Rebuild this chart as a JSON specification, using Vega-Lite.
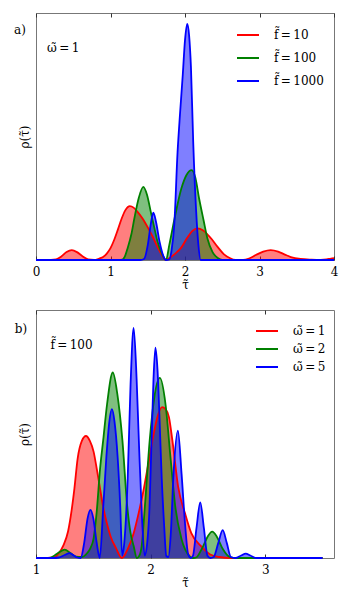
{
  "$schema": "https://vega.github.io/schema/vega-lite/v6.json",
  "padding": {"left": 13, "top": 12, "right": 0, "bottom": 0},
  "config": {
    "font": "DejaVu Serif",
    "view": {"stroke": "#777777", "strokeWidth": 1},
    "axis": {"grid": false, "domain": false, "labelFont": "DejaVu Serif", "titleFont": "DejaVu Serif", "labelFontSize": 12, "titleFontSize": 12, "titleFontWeight": "normal", "labelColor": "#000000", "titleColor": "#000000", "tickColor": "#333333", "labelFlush": false, "labelOverlap": false},
    "legend": {"labelFont": "DejaVu Serif", "labelFontSize": 12, "labelColor": "#000000"},
    "concat": {"spacing": 18}
  },
  "resolve": {"scale": {"color": "independent", "fill": "independent", "x": "independent", "y": "independent"}, "legend": {"color": "independent"}},
  "datasets": {
    "curves": [
      {"panel":"a","series":"f̃ = 10","x":0,"y":0},{"panel":"a","series":"f̃ = 10","x":0.2,"y":0},{"panel":"a","series":"f̃ = 10","x":0.27,"y":0.01},{"panel":"a","series":"f̃ = 10","x":0.34,"y":0.07},{"panel":"a","series":"f̃ = 10","x":0.41,"y":0.16},{"panel":"a","series":"f̃ = 10","x":0.48,"y":0.2},{"panel":"a","series":"f̃ = 10","x":0.55,"y":0.16},{"panel":"a","series":"f̃ = 10","x":0.62,"y":0.08},{"panel":"a","series":"f̃ = 10","x":0.7,"y":0.01},{"panel":"a","series":"f̃ = 10","x":0.78,"y":0},{"panel":"a","series":"f̃ = 10","x":0.85,"y":0.03},{"panel":"a","series":"f̃ = 10","x":0.9,"y":0.06},{"panel":"a","series":"f̃ = 10","x":0.95,"y":0.13},{"panel":"a","series":"f̃ = 10","x":1.0,"y":0.24},{"panel":"a","series":"f̃ = 10","x":1.05,"y":0.41},{"panel":"a","series":"f̃ = 10","x":1.1,"y":0.62},{"panel":"a","series":"f̃ = 10","x":1.15,"y":0.84},{"panel":"a","series":"f̃ = 10","x":1.2,"y":1.01},{"panel":"a","series":"f̃ = 10","x":1.26,"y":1.09},{"panel":"a","series":"f̃ = 10","x":1.31,"y":1.06},{"panel":"a","series":"f̃ = 10","x":1.36,"y":0.98},{"panel":"a","series":"f̃ = 10","x":1.43,"y":0.84},{"panel":"a","series":"f̃ = 10","x":1.5,"y":0.66},{"panel":"a","series":"f̃ = 10","x":1.57,"y":0.46},{"panel":"a","series":"f̃ = 10","x":1.63,"y":0.27},{"panel":"a","series":"f̃ = 10","x":1.69,"y":0.1},{"panel":"a","series":"f̃ = 10","x":1.745,"y":0},{"panel":"a","series":"f̃ = 10","x":1.8,"y":0.05},{"panel":"a","series":"f̃ = 10","x":1.87,"y":0.13},{"panel":"a","series":"f̃ = 10","x":1.95,"y":0.25},{"panel":"a","series":"f̃ = 10","x":2.03,"y":0.45},{"panel":"a","series":"f̃ = 10","x":2.1,"y":0.59},{"panel":"a","series":"f̃ = 10","x":2.17,"y":0.64},{"panel":"a","series":"f̃ = 10","x":2.24,"y":0.6},{"panel":"a","series":"f̃ = 10","x":2.3,"y":0.52},{"panel":"a","series":"f̃ = 10","x":2.36,"y":0.42},{"panel":"a","series":"f̃ = 10","x":2.44,"y":0.26},{"panel":"a","series":"f̃ = 10","x":2.52,"y":0.12},{"panel":"a","series":"f̃ = 10","x":2.6,"y":0.04},{"panel":"a","series":"f̃ = 10","x":2.68,"y":0},{"panel":"a","series":"f̃ = 10","x":2.78,"y":0},{"panel":"a","series":"f̃ = 10","x":2.86,"y":0.03},{"panel":"a","series":"f̃ = 10","x":2.95,"y":0.1},{"panel":"a","series":"f̃ = 10","x":3.05,"y":0.17},{"panel":"a","series":"f̃ = 10","x":3.15,"y":0.2},{"panel":"a","series":"f̃ = 10","x":3.25,"y":0.17},{"panel":"a","series":"f̃ = 10","x":3.34,"y":0.11},{"panel":"a","series":"f̃ = 10","x":3.42,"y":0.06},{"panel":"a","series":"f̃ = 10","x":3.55,"y":0.02},{"panel":"a","series":"f̃ = 10","x":3.7,"y":0.005},{"panel":"a","series":"f̃ = 10","x":3.82,"y":0},{"panel":"a","series":"f̃ = 10","x":3.9,"y":0.01},{"panel":"a","series":"f̃ = 10","x":3.96,"y":0.03},{"panel":"a","series":"f̃ = 10","x":4.0,"y":0.04},
      {"panel":"a","series":"f̃ = 100","x":0,"y":0},{"panel":"a","series":"f̃ = 100","x":1.1,"y":0},{"panel":"a","series":"f̃ = 100","x":1.16,"y":0.01},{"panel":"a","series":"f̃ = 100","x":1.2,"y":0.1},{"panel":"a","series":"f̃ = 100","x":1.23,"y":0.24},{"panel":"a","series":"f̃ = 100","x":1.28,"y":0.52},{"panel":"a","series":"f̃ = 100","x":1.32,"y":0.84},{"panel":"a","series":"f̃ = 100","x":1.38,"y":1.26},{"panel":"a","series":"f̃ = 100","x":1.44,"y":1.48},{"panel":"a","series":"f̃ = 100","x":1.49,"y":1.32},{"panel":"a","series":"f̃ = 100","x":1.54,"y":0.98},{"panel":"a","series":"f̃ = 100","x":1.59,"y":0.64},{"panel":"a","series":"f̃ = 100","x":1.63,"y":0.38},{"panel":"a","series":"f̃ = 100","x":1.69,"y":0.13},{"panel":"a","series":"f̃ = 100","x":1.745,"y":0},{"panel":"a","series":"f̃ = 100","x":1.79,"y":0.31},{"panel":"a","series":"f̃ = 100","x":1.86,"y":0.84},{"panel":"a","series":"f̃ = 100","x":1.95,"y":1.44},{"panel":"a","series":"f̃ = 100","x":2.02,"y":1.72},{"panel":"a","series":"f̃ = 100","x":2.09,"y":1.82},{"panel":"a","series":"f̃ = 100","x":2.14,"y":1.66},{"panel":"a","series":"f̃ = 100","x":2.19,"y":1.24},{"panel":"a","series":"f̃ = 100","x":2.25,"y":0.8},{"panel":"a","series":"f̃ = 100","x":2.3,"y":0.44},{"panel":"a","series":"f̃ = 100","x":2.37,"y":0.16},{"panel":"a","series":"f̃ = 100","x":2.44,"y":0.04},{"panel":"a","series":"f̃ = 100","x":2.5,"y":0},{"panel":"a","series":"f̃ = 100","x":4.0,"y":0},
      {"panel":"a","series":"f̃ = 1000","x":0,"y":0},{"panel":"a","series":"f̃ = 1000","x":1.4,"y":0},{"panel":"a","series":"f̃ = 1000","x":1.45,"y":0.02},{"panel":"a","series":"f̃ = 1000","x":1.5,"y":0.3},{"panel":"a","series":"f̃ = 1000","x":1.54,"y":0.72},{"panel":"a","series":"f̃ = 1000","x":1.575,"y":0.96},{"panel":"a","series":"f̃ = 1000","x":1.61,"y":0.78},{"panel":"a","series":"f̃ = 1000","x":1.66,"y":0.36},{"panel":"a","series":"f̃ = 1000","x":1.71,"y":0.08},{"panel":"a","series":"f̃ = 1000","x":1.745,"y":0},{"panel":"a","series":"f̃ = 1000","x":1.79,"y":0.01},{"panel":"a","series":"f̃ = 1000","x":1.82,"y":0.2},{"panel":"a","series":"f̃ = 1000","x":1.856,"y":0.71},{"panel":"a","series":"f̃ = 1000","x":1.9,"y":2.18},{"panel":"a","series":"f̃ = 1000","x":1.935,"y":3.0},{"panel":"a","series":"f̃ = 1000","x":1.97,"y":3.75},{"panel":"a","series":"f̃ = 1000","x":2.0,"y":4.45},{"panel":"a","series":"f̃ = 1000","x":2.03,"y":4.78},{"panel":"a","series":"f̃ = 1000","x":2.055,"y":4.55},{"panel":"a","series":"f̃ = 1000","x":2.08,"y":3.9},{"panel":"a","series":"f̃ = 1000","x":2.11,"y":2.4},{"panel":"a","series":"f̃ = 1000","x":2.15,"y":0.98},{"panel":"a","series":"f̃ = 1000","x":2.18,"y":0.3},{"panel":"a","series":"f̃ = 1000","x":2.21,"y":0},{"panel":"a","series":"f̃ = 1000","x":4.0,"y":0},
      {"panel":"b","series":"ω̃ = 1","x":1,"y":0},{"panel":"b","series":"ω̃ = 1","x":1.1,"y":0},{"panel":"b","series":"ω̃ = 1","x":1.153,"y":0.01},{"panel":"b","series":"ω̃ = 1","x":1.2,"y":0.1},{"panel":"b","series":"ω̃ = 1","x":1.24,"y":0.26},{"panel":"b","series":"ω̃ = 1","x":1.28,"y":0.54},{"panel":"b","series":"ω̃ = 1","x":1.31,"y":0.95},{"panel":"b","series":"ω̃ = 1","x":1.335,"y":1.4},{"panel":"b","series":"ω̃ = 1","x":1.363,"y":2.0},{"panel":"b","series":"ω̃ = 1","x":1.4,"y":2.36},{"panel":"b","series":"ω̃ = 1","x":1.436,"y":2.46},{"panel":"b","series":"ω̃ = 1","x":1.47,"y":2.36},{"panel":"b","series":"ω̃ = 1","x":1.503,"y":2.14},{"panel":"b","series":"ω̃ = 1","x":1.53,"y":1.8},{"panel":"b","series":"ω̃ = 1","x":1.559,"y":1.4},{"panel":"b","series":"ω̃ = 1","x":1.585,"y":1.04},{"panel":"b","series":"ω̃ = 1","x":1.614,"y":0.74},{"panel":"b","series":"ω̃ = 1","x":1.65,"y":0.44},{"panel":"b","series":"ω̃ = 1","x":1.698,"y":0.2},{"panel":"b","series":"ω̃ = 1","x":1.75,"y":0},{"panel":"b","series":"ω̃ = 1","x":1.8,"y":0.18},{"panel":"b","series":"ω̃ = 1","x":1.852,"y":0.5},{"panel":"b","series":"ω̃ = 1","x":1.9,"y":0.95},{"panel":"b","series":"ω̃ = 1","x":1.936,"y":1.34},{"panel":"b","series":"ω̃ = 1","x":1.98,"y":1.9},{"panel":"b","series":"ω̃ = 1","x":2.02,"y":2.42},{"panel":"b","series":"ω̃ = 1","x":2.06,"y":2.85},{"panel":"b","series":"ω̃ = 1","x":2.1,"y":3.04},{"panel":"b","series":"ω̃ = 1","x":2.13,"y":3.0},{"panel":"b","series":"ω̃ = 1","x":2.16,"y":2.84},{"panel":"b","series":"ω̃ = 1","x":2.19,"y":2.37},{"panel":"b","series":"ω̃ = 1","x":2.24,"y":1.44},{"panel":"b","series":"ω̃ = 1","x":2.3,"y":0.9},{"panel":"b","series":"ω̃ = 1","x":2.355,"y":0.5},{"panel":"b","series":"ω̃ = 1","x":2.44,"y":0.24},{"panel":"b","series":"ω̃ = 1","x":2.52,"y":0.07},{"panel":"b","series":"ω̃ = 1","x":2.6,"y":0.02},{"panel":"b","series":"ω̃ = 1","x":2.7,"y":0},{"panel":"b","series":"ω̃ = 1","x":3.5,"y":0},
      {"panel":"b","series":"ω̃ = 2","x":1,"y":0},{"panel":"b","series":"ω̃ = 2","x":1.1,"y":0},{"panel":"b","series":"ω̃ = 2","x":1.13,"y":0.01},{"panel":"b","series":"ω̃ = 2","x":1.18,"y":0.08},{"panel":"b","series":"ω̃ = 2","x":1.25,"y":0.17},{"panel":"b","series":"ω̃ = 2","x":1.3,"y":0.1},{"panel":"b","series":"ω̃ = 2","x":1.35,"y":0.03},{"panel":"b","series":"ω̃ = 2","x":1.4,"y":0.02},{"panel":"b","series":"ω̃ = 2","x":1.447,"y":0.1},{"panel":"b","series":"ω̃ = 2","x":1.475,"y":0.2},{"panel":"b","series":"ω̃ = 2","x":1.503,"y":0.4},{"panel":"b","series":"ω̃ = 2","x":1.53,"y":0.94},{"panel":"b","series":"ω̃ = 2","x":1.559,"y":1.8},{"panel":"b","series":"ω̃ = 2","x":1.586,"y":2.37},{"panel":"b","series":"ω̃ = 2","x":1.62,"y":3.1},{"panel":"b","series":"ω̃ = 2","x":1.67,"y":3.74},{"panel":"b","series":"ω̃ = 2","x":1.71,"y":3.3},{"panel":"b","series":"ω̃ = 2","x":1.754,"y":2.37},{"panel":"b","series":"ω̃ = 2","x":1.796,"y":1.04},{"panel":"b","series":"ω̃ = 2","x":1.825,"y":0.5},{"panel":"b","series":"ω̃ = 2","x":1.852,"y":0.24},{"panel":"b","series":"ω̃ = 2","x":1.88,"y":0},{"panel":"b","series":"ω̃ = 2","x":1.9,"y":0.04},{"panel":"b","series":"ω̃ = 2","x":1.922,"y":0.24},{"panel":"b","series":"ω̃ = 2","x":1.95,"y":1.04},{"panel":"b","series":"ω̃ = 2","x":1.992,"y":2.37},{"panel":"b","series":"ω̃ = 2","x":2.03,"y":3.2},{"panel":"b","series":"ω̃ = 2","x":2.081,"y":3.63},{"panel":"b","series":"ω̃ = 2","x":2.13,"y":3.1},{"panel":"b","series":"ω̃ = 2","x":2.173,"y":2.04},{"panel":"b","series":"ω̃ = 2","x":2.215,"y":1.04},{"panel":"b","series":"ω̃ = 2","x":2.27,"y":0.38},{"panel":"b","series":"ω̃ = 2","x":2.34,"y":0.04},{"panel":"b","series":"ω̃ = 2","x":2.37,"y":0},{"panel":"b","series":"ω̃ = 2","x":2.397,"y":0.01},{"panel":"b","series":"ω̃ = 2","x":2.45,"y":0.2},{"panel":"b","series":"ω̃ = 2","x":2.5,"y":0.44},{"panel":"b","series":"ω̃ = 2","x":2.537,"y":0.53},{"panel":"b","series":"ω̃ = 2","x":2.58,"y":0.42},{"panel":"b","series":"ω̃ = 2","x":2.63,"y":0.18},{"panel":"b","series":"ω̃ = 2","x":2.69,"y":0.02},{"panel":"b","series":"ω̃ = 2","x":2.75,"y":0},{"panel":"b","series":"ω̃ = 2","x":3.5,"y":0},
      {"panel":"b","series":"ω̃ = 5","x":1,"y":0},{"panel":"b","series":"ω̃ = 5","x":1.15,"y":0},{"panel":"b","series":"ω̃ = 5","x":1.2,"y":0.01},{"panel":"b","series":"ω̃ = 5","x":1.25,"y":0.06},{"panel":"b","series":"ω̃ = 5","x":1.293,"y":0.1},{"panel":"b","series":"ω̃ = 5","x":1.33,"y":0.05},{"panel":"b","series":"ω̃ = 5","x":1.36,"y":0.01},{"panel":"b","series":"ω̃ = 5","x":1.39,"y":0},{"panel":"b","series":"ω̃ = 5","x":1.42,"y":0.3},{"panel":"b","series":"ω̃ = 5","x":1.45,"y":0.8},{"panel":"b","series":"ω̃ = 5","x":1.475,"y":0.97},{"panel":"b","series":"ω̃ = 5","x":1.5,"y":0.8},{"panel":"b","series":"ω̃ = 5","x":1.53,"y":0.3},{"panel":"b","series":"ω̃ = 5","x":1.556,"y":0},{"panel":"b","series":"ω̃ = 5","x":1.587,"y":1.04},{"panel":"b","series":"ω̃ = 5","x":1.614,"y":2.04},{"panel":"b","series":"ω̃ = 5","x":1.64,"y":2.75},{"panel":"b","series":"ω̃ = 5","x":1.662,"y":3.0},{"panel":"b","series":"ω̃ = 5","x":1.685,"y":2.75},{"panel":"b","series":"ω̃ = 5","x":1.712,"y":2.04},{"panel":"b","series":"ω̃ = 5","x":1.735,"y":1.04},{"panel":"b","series":"ω̃ = 5","x":1.752,"y":0.05},{"panel":"b","series":"ω̃ = 5","x":1.77,"y":0.3},{"panel":"b","series":"ω̃ = 5","x":1.8,"y":1.6},{"panel":"b","series":"ω̃ = 5","x":1.825,"y":3.5},{"panel":"b","series":"ω̃ = 5","x":1.852,"y":4.64},{"panel":"b","series":"ω̃ = 5","x":1.878,"y":3.6},{"panel":"b","series":"ω̃ = 5","x":1.9,"y":2.2},{"panel":"b","series":"ω̃ = 5","x":1.925,"y":0.8},{"panel":"b","series":"ω̃ = 5","x":1.948,"y":0.05},{"panel":"b","series":"ω̃ = 5","x":1.97,"y":0.3},{"panel":"b","series":"ω̃ = 5","x":1.99,"y":1.0},{"panel":"b","series":"ω̃ = 5","x":2.006,"y":2.2},{"panel":"b","series":"ω̃ = 5","x":2.025,"y":3.6},{"panel":"b","series":"ω̃ = 5","x":2.042,"y":4.24},{"panel":"b","series":"ω̃ = 5","x":2.06,"y":3.8},{"panel":"b","series":"ω̃ = 5","x":2.078,"y":2.8},{"panel":"b","series":"ω̃ = 5","x":2.097,"y":1.6},{"panel":"b","series":"ω̃ = 5","x":2.117,"y":0.7},{"panel":"b","series":"ω̃ = 5","x":2.137,"y":0.04},{"panel":"b","series":"ω̃ = 5","x":2.155,"y":0.02},{"panel":"b","series":"ω̃ = 5","x":2.175,"y":0.45},{"panel":"b","series":"ω̃ = 5","x":2.2,"y":1.7},{"panel":"b","series":"ω̃ = 5","x":2.238,"y":2.57},{"panel":"b","series":"ω̃ = 5","x":2.27,"y":1.7},{"panel":"b","series":"ω̃ = 5","x":2.3,"y":0.7},{"panel":"b","series":"ω̃ = 5","x":2.327,"y":0.08},{"panel":"b","series":"ω̃ = 5","x":2.35,"y":0},{"panel":"b","series":"ω̃ = 5","x":2.37,"y":0.05},{"panel":"b","series":"ω̃ = 5","x":2.4,"y":0.6},{"panel":"b","series":"ω̃ = 5","x":2.433,"y":1.12},{"panel":"b","series":"ω̃ = 5","x":2.465,"y":0.6},{"panel":"b","series":"ω̃ = 5","x":2.495,"y":0.05},{"panel":"b","series":"ω̃ = 5","x":2.52,"y":0},{"panel":"b","series":"ω̃ = 5","x":2.55,"y":0.02},{"panel":"b","series":"ω̃ = 5","x":2.59,"y":0.3},{"panel":"b","series":"ω̃ = 5","x":2.629,"y":0.56},{"panel":"b","series":"ω̃ = 5","x":2.665,"y":0.3},{"panel":"b","series":"ω̃ = 5","x":2.7,"y":0.02},{"panel":"b","series":"ω̃ = 5","x":2.74,"y":0},{"panel":"b","series":"ω̃ = 5","x":2.79,"y":0.05},{"panel":"b","series":"ω̃ = 5","x":2.83,"y":0.09},{"panel":"b","series":"ω̃ = 5","x":2.87,"y":0.05},{"panel":"b","series":"ω̃ = 5","x":2.92,"y":0},{"panel":"b","series":"ω̃ = 5","x":3.5,"y":0}
    ]
  },
  "vconcat": [
    {
      "width": 298, "height": 247,
      "resolve": {"axis": {"x": "independent", "y": "independent"}},
      "layer": [
        {
          "data": {"name": "curves"},
          "transform": [{"filter": "datum.panel == 'a'"}],
          "mark": {"type": "area", "interpolate": "monotone", "fillOpacity": 0.5},
          "encoding": {
            "x": {"field": "x", "type": "quantitative", "scale": {"domain": [0, 4]}, "axis": {"orient": "top", "values": [0, 1, 2, 3, 4], "tickSize": -4, "labels": false, "title": null}},
            "y": {"field": "y", "type": "quantitative", "stack": null, "scale": {"domain": [0, 4.94]}, "axis": null},
            "fill": {"field": "series", "type": "nominal", "scale": {"domain": ["f̃ = 1000", "f̃ = 100", "f̃ = 10"], "range": ["#0000ff", "#008000", "#ff0000"]}, "legend": null}
          }
        },
        {
          "data": {"name": "curves"},
          "transform": [{"filter": "datum.panel == 'a'"}],
          "mark": {"type": "line", "interpolate": "monotone", "strokeWidth": 1.8},
          "encoding": {
            "x": {"field": "x", "type": "quantitative", "scale": {"domain": [0, 4]}, "axis": {"orient": "bottom", "values": [0, 1, 2, 3, 4], "tickSize": -4, "labelPadding": 10, "title": "τ̃", "titlePadding": 2, "format": "d"}},
            "y": {"field": "y", "type": "quantitative", "scale": {"domain": [0, 4.94]}, "axis": {"orient": "left", "title": "ρ(τ̃)", "labels": false, "ticks": false, "titlePadding": 5}},
            "color": {"field": "series", "type": "nominal", "scale": {"domain": ["f̃ = 10", "f̃ = 100", "f̃ = 1000"], "range": ["#ff0000", "#008000", "#0000ff"]}, "legend": {"title": null, "orient": "none", "legendX": 200, "legendY": 10, "symbolType": "stroke", "symbolSize": 484, "symbolStrokeWidth": 2, "labelOffset": 14, "rowPadding": 5, "padding": 0, "labelExpr": "replace(datum.label, ' = ', '\u2009=\u2009')"}}
          }
        },
        {
          "data": {"values": [{}]},
          "mark": {"type": "text", "align": "left", "baseline": "alphabetic", "fontSize": 12, "font": "DejaVu Serif"},
          "encoding": {"x": {"datum": -0.295, "type": "quantitative", "axis": null}, "y": {"datum": 4.58, "type": "quantitative", "axis": null}, "text": {"value": "a)"}}
        },
        {
          "data": {"values": [{}]},
          "mark": {"type": "text", "align": "left", "baseline": "alphabetic", "fontSize": 12, "font": "DejaVu Serif"},
          "encoding": {"x": {"datum": 0.148, "type": "quantitative", "axis": null}, "y": {"datum": 4.22, "type": "quantitative", "axis": null}, "text": {"value": "ω̃\u2009=\u20091"}}
        }
      ]
    },
    {
      "width": 298, "height": 248,
      "resolve": {"axis": {"x": "independent", "y": "independent"}},
      "layer": [
        {
          "data": {"name": "curves"},
          "transform": [{"filter": "datum.panel == 'b'"}],
          "mark": {"type": "area", "interpolate": "monotone", "fillOpacity": 0.5},
          "encoding": {
            "x": {"field": "x", "type": "quantitative", "scale": {"domain": [1, 3.5]}, "axis": {"orient": "top", "values": [1, 2, 3], "tickSize": -4, "labels": false, "title": null}},
            "y": {"field": "y", "type": "quantitative", "stack": null, "scale": {"domain": [0, 4.96]}, "axis": null},
            "fill": {"field": "series", "type": "nominal", "scale": {"domain": ["ω̃ = 5", "ω̃ = 2", "ω̃ = 1"], "range": ["#0000ff", "#008000", "#ff0000"]}, "legend": null}
          }
        },
        {
          "data": {"name": "curves"},
          "transform": [{"filter": "datum.panel == 'b'"}],
          "mark": {"type": "line", "interpolate": "monotone", "strokeWidth": 1.8},
          "encoding": {
            "x": {"field": "x", "type": "quantitative", "scale": {"domain": [1, 3.5]}, "axis": {"orient": "bottom", "values": [1, 2, 3], "tickSize": -4, "labelPadding": 10, "title": "τ̃", "titlePadding": 2, "format": "d"}},
            "y": {"field": "y", "type": "quantitative", "scale": {"domain": [0, 4.96]}, "axis": {"orient": "left", "title": "ρ(τ̃)", "labels": false, "ticks": false, "titlePadding": 5}},
            "color": {"field": "series", "type": "nominal", "scale": {"domain": ["ω̃ = 1", "ω̃ = 2", "ω̃ = 5"], "range": ["#ff0000", "#008000", "#0000ff"]}, "legend": {"title": null, "orient": "none", "legendX": 219, "legendY": 9, "symbolType": "stroke", "symbolSize": 484, "symbolStrokeWidth": 2, "labelOffset": 14, "rowPadding": 0, "padding": 0, "labelExpr": "replace(datum.label, ' = ', '\u2009=\u2009')"}}
          }
        },
        {
          "data": {"values": [{}]},
          "mark": {"type": "text", "align": "left", "baseline": "alphabetic", "fontSize": 12, "font": "DejaVu Serif"},
          "encoding": {"x": {"datum": 0.8156, "type": "quantitative", "axis": null}, "y": {"datum": 4.54, "type": "quantitative", "axis": null}, "text": {"value": "b)"}}
        },
        {
          "data": {"values": [{}]},
          "mark": {"type": "text", "align": "left", "baseline": "alphabetic", "fontSize": 12, "font": "DejaVu Serif"},
          "encoding": {"x": {"datum": 1.126, "type": "quantitative", "axis": null}, "y": {"datum": 4.22, "type": "quantitative", "axis": null}, "text": {"value": "f̃\u2009=\u2009100"}}
        }
      ]
    }
  ]
}
